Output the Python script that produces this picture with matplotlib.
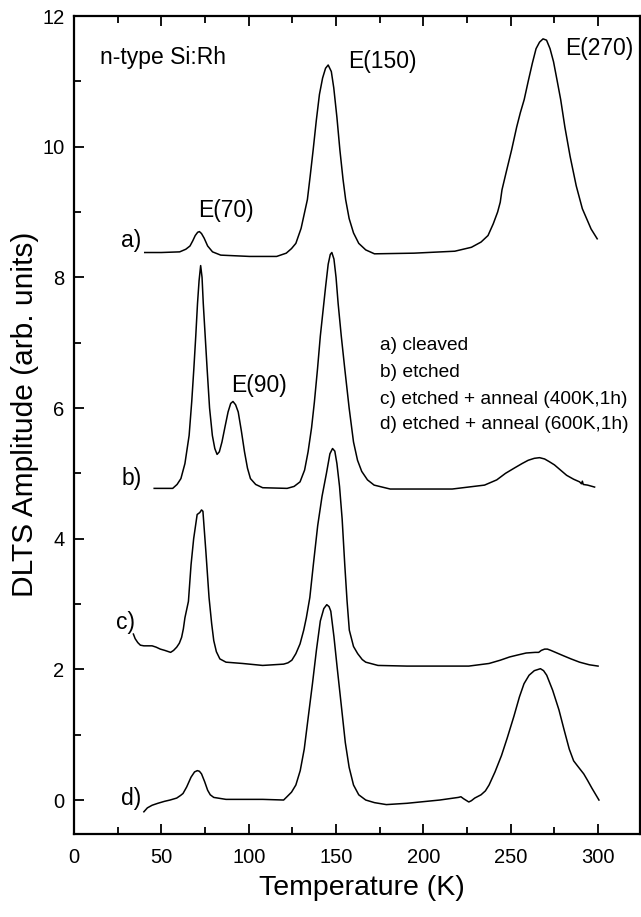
import matplotlib
matplotlib.use("Agg")
import matplotlib.pyplot as plt
from matplotlib.ticker import MultipleLocator

plt.rcParams['font.family'] = ['Liberation Sans', 'DejaVu Sans']

# ---- data ----
a_T = [40.5, 50, 60.5, 64, 66.4, 68, 69.4, 70.8, 71.8, 73, 74.5, 76.5, 79.3, 84, 100.5, 116, 121.5, 124.5, 127,
       130, 133.6, 135.2, 136.9, 138.7, 140.5, 142.3, 144, 145.5, 147.3, 148.7, 150.5, 152.2, 154, 155.5, 157.5,
       160, 163, 167, 172, 194.6, 218, 227.5, 233, 237, 240, 242.5, 244, 245, 247.5, 250.5, 253.4, 255.5, 257.7,
       260, 262.4, 264.5, 266.5, 268.5, 270.5, 272.5, 274.5, 276.5, 278.6, 281, 284, 287.5, 291, 296, 299.5]
a_y = [8.38, 8.38, 8.39, 8.43, 8.48, 8.56, 8.64, 8.69, 8.70, 8.67, 8.60, 8.48, 8.39, 8.34, 8.32, 8.32, 8.37, 8.44,
       8.52, 8.75, 9.19, 9.55, 9.95, 10.4, 10.8, 11.05, 11.2, 11.25, 11.15, 10.9, 10.45, 9.95, 9.5, 9.19, 8.9, 8.68,
       8.52, 8.42, 8.36, 8.37, 8.40, 8.46, 8.54, 8.64, 8.82, 9.0, 9.15, 9.34, 9.62, 9.95, 10.3, 10.52, 10.72, 11.0,
       11.28, 11.5, 11.6, 11.65, 11.63, 11.5, 11.3, 11.02, 10.72, 10.3, 9.85, 9.4, 9.05, 8.74, 8.59]

b_T = [45.9, 56.5, 59, 61.2, 63.5, 65.9, 67.4, 68.6, 69.7, 70.7, 71.6, 72.5, 73.3, 74, 75.1, 76.2, 77.6, 79.2,
       80.6, 81.9, 83.2, 84.7, 86.5, 88.2, 89.7, 91, 92.5, 94, 95.8, 97.6, 99.3, 101, 104, 108, 122, 126, 129.4, 132,
       134, 136, 137.6, 139.4, 141, 142.6, 144, 145.5, 146.7, 147.6, 148.8, 150, 151.2, 153, 155, 157.5, 160, 162.3,
       164.7, 168, 171.8, 181, 216.5, 235, 242, 247, 252, 256.5, 260, 263.5, 266.5, 269.4, 272, 275, 278.5, 282, 286,
       289.4, 290.5, 291, 291.5, 294, 298]
b_y = [4.77, 4.77, 4.83, 4.92, 5.15, 5.58, 6.1, 6.6, 7.1, 7.6, 7.95, 8.18, 8.0, 7.6, 7.1, 6.6, 6.0, 5.58, 5.38,
       5.29, 5.33, 5.48, 5.72, 5.94, 6.07, 6.10, 6.05, 5.94, 5.65, 5.33, 5.08, 4.92, 4.83, 4.78, 4.77, 4.80, 4.87,
       5.05, 5.33, 5.7, 6.09, 6.6, 7.1, 7.5, 7.85, 8.2, 8.35, 8.38, 8.28, 8.0, 7.6, 7.1, 6.6, 6.0, 5.48, 5.2, 5.03,
       4.9, 4.82, 4.76, 4.76, 4.82, 4.9, 5.0, 5.08, 5.15, 5.2, 5.23, 5.24, 5.22, 5.18, 5.13, 5.05, 4.97, 4.91, 4.87,
       4.84, 4.88, 4.83, 4.82, 4.79]

c_T = [34, 35, 36.5, 38, 40, 44.7, 47, 49.4, 52, 55.3, 57, 58.8, 60.3, 61.6, 62.6, 63.5, 65.5, 67, 68.5, 70.5,
       72, 73, 73.8, 75.5, 77.3, 78.8, 80, 81.5, 83.5, 87, 96.5, 108, 120, 122.5, 124.7, 127, 129.4, 131.5, 133, 135,
       137, 139.5, 142, 144.5, 146.5, 148, 149.3, 150.5, 152, 153.5, 155, 156.3, 157.6, 160, 162.4, 165, 167, 174,
       190.6, 226, 237.6, 244, 249.4, 254, 258.8, 264, 266, 267.5, 269.4, 271, 273, 276.5, 280, 284.5, 289.4, 295, 300]
c_y = [2.54, 2.47, 2.41, 2.37, 2.36, 2.36, 2.34, 2.31, 2.29, 2.26, 2.29, 2.34, 2.40, 2.49, 2.62, 2.79, 3.04, 3.6,
       4.0, 4.37, 4.40, 4.44, 4.42, 3.8, 3.1, 2.7, 2.44, 2.27, 2.16, 2.11, 2.09, 2.06, 2.08, 2.10, 2.14, 2.24, 2.39,
       2.6, 2.79, 3.1, 3.6, 4.2, 4.65, 5.0, 5.3, 5.38, 5.34, 5.15, 4.8, 4.3, 3.6, 3.05, 2.6, 2.35, 2.24, 2.15, 2.11,
       2.06, 2.05, 2.05, 2.09, 2.14, 2.19, 2.22, 2.25, 2.26, 2.26, 2.29, 2.31, 2.31, 2.29, 2.25, 2.21, 2.16, 2.11,
       2.07, 2.05]

d_T = [40, 42, 44.7, 48, 51.8, 55, 58.8, 61, 62.4, 64.5, 67, 69, 70.6, 71.8, 73, 74.8, 76.5, 78, 80, 87, 108, 120,
       121.9, 124.5, 127, 129.5, 131.8, 134, 136.5, 138.8, 141, 143, 144.7, 146, 147, 148.8, 150.6, 153, 155.3, 157.5,
       160, 163, 167, 172, 178.8, 190.6, 209.4, 220, 221.5, 223, 226, 227.5, 229.4, 233, 235.5, 237.6, 241, 244.7,
       248, 251.8, 255, 257.6, 260.5, 263.5, 267, 268.8, 270.6, 274, 277.6, 280.5, 283.5, 286, 288, 291.8, 294,
       296.5, 300.5]
d_y = [-0.18, -0.12, -0.08, -0.05, -0.02, 0.0, 0.03, 0.07, 0.10, 0.2, 0.35, 0.43, 0.45, 0.44, 0.40, 0.28, 0.15,
       0.08, 0.04, 0.01, 0.01, 0.0, 0.05, 0.12, 0.23, 0.45, 0.78, 1.25, 1.78, 2.3, 2.74, 2.93, 2.99, 2.96, 2.89, 2.5,
       2.04, 1.45, 0.88, 0.5, 0.23, 0.08, 0.0, -0.04, -0.07, -0.05, 0.0, 0.04, 0.05, 0.02, -0.03, -0.01, 0.03, 0.08,
       0.14, 0.23, 0.43, 0.68, 0.95, 1.28, 1.58, 1.78, 1.91, 1.98, 2.01, 1.98, 1.91, 1.68, 1.38, 1.08, 0.78, 0.6,
       0.53, 0.40, 0.3, 0.18, 0.0]

curve_labels = ["a)", "b)", "c)", "d)"]
peak_labels = ["E(70)", "E(90)", "E(150)", "E(270)"]
legend_lines = ["a) cleaved", "b) etched", "c) etched + anneal (400K,1h)", "d) etched + anneal (600K,1h)"]
x_ticks = [0, 50, 100, 150, 200, 250, 300]
y_ticks = [0, 2, 4, 6, 8, 10, 12]

# ---- figure ----
W, H = 641, 917
fig = plt.figure(figsize=(W / 100, H / 100), dpi=100)
ax = fig.add_axes([74 / W, 1 - 834 / H, (640 - 74) / W, (834 - 16) / H])

for T, y in [(a_T, a_y), (b_T, b_y), (c_T, c_y), (d_T, d_y)]:
    ax.plot(T, y, color='black', lw=1.1)

ax.set_xlim(0, 324)
ax.set_ylim(-0.52, 12.0)
ax.set_xticks(x_ticks)
ax.set_yticks(y_ticks)
ax.xaxis.set_minor_locator(MultipleLocator(25))
ax.yaxis.set_minor_locator(MultipleLocator(1))
ax.tick_params(which='both', direction='in', top=True, right=False, width=1.3, labelsize=14.5)
ax.tick_params(which='major', length=7)
ax.tick_params(which='minor', length=5)
ax.tick_params(axis='x', pad=10)
ax.tick_params(axis='y', pad=7)
for s in ax.spines.values():
    s.set_linewidth(1.6)

ts = 16.5
ax.text(14.6, 11.37, "n-type Si:Rh", fontsize=ts, va='center', ha='left')
ax.text(71.3, 9.03, peak_labels[0], fontsize=ts, va='center', ha='left')
ax.text(90.1, 6.35, peak_labels[1], fontsize=ts, va='center', ha='left')
ax.text(157.2, 11.3, peak_labels[2], fontsize=ts, va='center', ha='left')
ax.text(281, 11.5, peak_labels[3], fontsize=ts, va='center', ha='left')

for lab, yy, xx in zip(curve_labels, [8.56, 4.92, 2.71, 0.03], [27, 27, 24, 27]):
    ax.text(xx, yy, lab, fontsize=ts, va='center', ha='left')

for line, yy in zip(legend_lines, [6.95, 6.54, 6.13, 5.75]):
    ax.text(175.3, yy, line, fontsize=13.8, va='center', ha='left')

fig.text(362 / W, 1 - 888 / H, "Temperature (K)", fontsize=20.5, ha='center', va='center')
fig.text(25 / W, 1 - 414 / H, "DLTS Amplitude (arb. units)", fontsize=21.5, ha='center', va='center',
         rotation=90)

fig.savefig("out.png", dpi=100)
